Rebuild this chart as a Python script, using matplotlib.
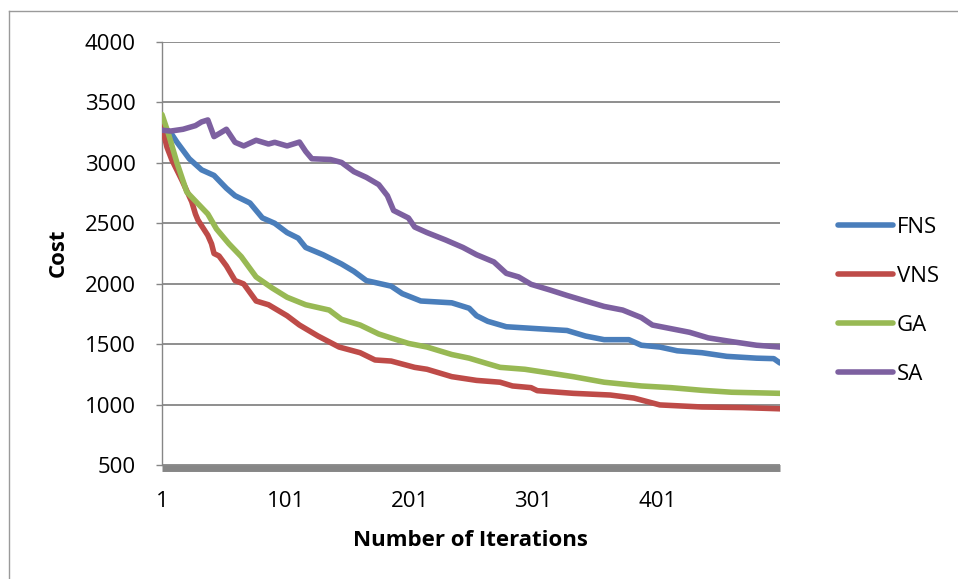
import matplotlib
matplotlib.use("Agg")
import matplotlib.pyplot as plt
from matplotlib.lines import Line2D

plt.rcParams['font.family'] = ['Open Sans', 'DejaVu Sans']

# ---- data ----
fns_iter = [1, 8, 13, 23, 33, 43, 53, 60, 72, 82, 92, 102, 111, 117, 131, 146, 156, 166, 186, 195,
            210, 235, 249, 255, 264, 279, 304, 328, 343, 358, 378, 388, 403, 417, 437, 457, 481, 495, 500]
fns_cost = [3300, 3250, 3172, 3034, 2942, 2896, 2790, 2728, 2668, 2545, 2500, 2423, 2377, 2300, 2240,
            2163, 2102, 2026, 1980, 1918, 1857, 1842, 1797, 1735, 1689, 1644, 1628, 1613, 1567, 1537,
            1537, 1491, 1476, 1445, 1429, 1399, 1384, 1380, 1344]

vns_iter = [1, 5, 9, 13, 17, 25, 28, 30, 38, 41, 43, 47, 53, 60, 67, 77, 87, 102, 112, 127, 144, 161,
            173, 186, 205, 215, 235, 255, 274, 284, 299, 304, 333, 363, 382, 403, 437, 470, 500]
vns_cost = [3300, 3130, 3024, 2941, 2858, 2679, 2577, 2527, 2400, 2330, 2250, 2230, 2147, 2026, 1998,
            1857, 1826, 1735, 1658, 1567, 1476, 1429, 1369, 1360, 1308, 1292, 1231, 1200, 1185, 1154,
            1140, 1115, 1093, 1079, 1054, 997, 980, 975, 965]

ga_iter = [1, 6, 13, 21, 28, 38, 45, 55, 65, 77, 90, 102, 117, 136, 146, 161, 176, 186, 200, 215, 235,
           249, 264, 274, 294, 314, 333, 358, 388, 412, 437, 461, 500]
ga_cost = [3400, 3247, 3003, 2759, 2684, 2577, 2453, 2331, 2224, 2056, 1964, 1888, 1826, 1782, 1705,
           1658, 1584, 1551, 1506, 1476, 1414, 1384, 1338, 1308, 1292, 1261, 1231, 1185, 1154, 1140,
           1118, 1102, 1093]

sa_iter = [1, 8, 18, 28, 33, 38, 43, 48, 53, 60, 67, 77, 87, 92, 102, 112, 117, 122, 137, 146, 156, 166,
           176, 183, 188, 200, 205, 215, 230, 244, 255, 269, 279, 289, 299, 314, 328, 343, 358, 373,
           388, 397, 412, 427, 442, 461, 481, 500]
sa_cost = [3270, 3263, 3278, 3308, 3339, 3355, 3217, 3247, 3278, 3170, 3140, 3187, 3156, 3170, 3140,
           3172, 3095, 3034, 3028, 3003, 2927, 2880, 2820, 2728, 2606, 2544, 2469, 2423, 2362, 2300,
           2240, 2180, 2086, 2056, 1995, 1949, 1903, 1857, 1812, 1782, 1720, 1658, 1628, 1598, 1552,
           1521, 1491, 1476]

series_names = ["FNS", "VNS", "GA", "SA"]
series_colors = ["#4A7EBB", "#BE4B48", "#98B954", "#7D60A0"]
x_ticks = [1, 101, 201, 301, 401]
y_ticks = [500, 1000, 1500, 2000, 2500, 3000, 3500, 4000]

# ---- figure ----
W, H = 958, 579
FS = 16
fig = plt.figure(figsize=(W / 100, H / 100), dpi=100)
ax = fig.add_axes([162 / W, 1 - 465 / H, 618 / W, (465 - 42) / H])

grid_c = "#868686"
for xs, ys, name, col in zip([fns_iter, vns_iter, ga_iter, sa_iter],
                             [fns_cost, vns_cost, ga_cost, sa_cost],
                             series_names, series_colors):
    ax.plot(xs, ys, color=col, lw=4.0, label=name, solid_joinstyle='round',
            solid_capstyle='round', zorder=3)

ax.set_xlim(1, 500)
ax.set_ylim(500, 4000)
ax.set_yticks(y_ticks)
ax.set_xticks(x_ticks)
ax.set_xticklabels([str(v) for v in x_ticks])
ax.yaxis.grid(True, color=grid_c, lw=1.3)
ax.set_axisbelow(True)

for s in ["top", "right"]:
    ax.spines[s].set_visible(False)
ax.spines["left"].set_color(grid_c)
ax.spines["left"].set_linewidth(1.0)
ax.spines["bottom"].set_color(grid_c)
ax.spines["bottom"].set_linewidth(5.0)
ax.spines["bottom"].set_position(("outward", 2.5))
ax.spines["bottom"].set_capstyle("butt")

ax.tick_params(axis="y", length=4, width=1, color=grid_c, pad=15, labelsize=FS)
ax.tick_params(axis="x", length=0, pad=16, labelsize=FS)

fig.text(58 / W, 1 - 253 / H, "Cost", rotation=90, ha="center", va="center",
         fontsize=FS, fontweight="bold")
fig.text(470 / W, 1 - 540 / H, "Number of Iterations", ha="center", va="center",
         fontsize=FS, fontweight="bold")

leg = ax.legend(loc="center left", bbox_to_anchor=(838 / W, 1 - 301 / H),
                bbox_transform=fig.transFigure, frameon=False, fontsize=FS,
                handlelength=2.48, handletextpad=0.18, labelspacing=1.26,
                borderpad=0, borderaxespad=0)
for h in leg.get_lines():
    h.set_linewidth(4.0)

# chart-area border (left and top edges visible)
fig.add_artist(Line2D([8.5 / W, 8.5 / W], [0, 1 - 11 / H], transform=fig.transFigure,
                      color="#9a9a9a", lw=1.0))
fig.add_artist(Line2D([8.5 / W, 1], [1 - 11 / H, 1 - 11 / H], transform=fig.transFigure,
                      color="#9a9a9a", lw=1.0))

fig.savefig("out.png", dpi=100)
